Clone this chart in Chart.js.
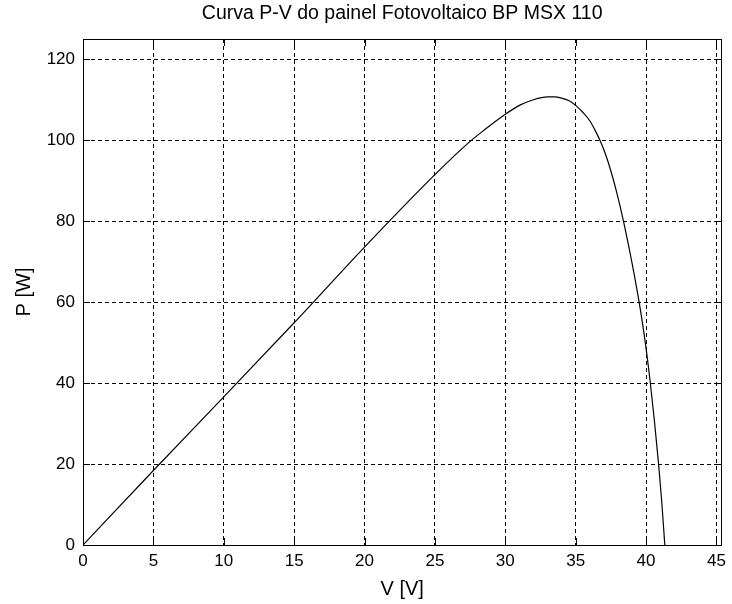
<!DOCTYPE html>
<html>
<head>
<meta charset="utf-8">
<script src="https://cdn.jsdelivr.net/npm/chart.js@4/dist/chart.umd.min.js"></script>
<style>
  html, body { margin: 0; padding: 0; background: #fff; }
  #wrap { width: 732px; height: 604px; }
</style>
</head>
<body>
<div id="wrap"><canvas id="pv" width="732" height="604"></canvas></div>
<script>
// P-V curve
const voltage = [0, 5, 10, 15, 20, 25, 27.5, 28.5, 30, 31, 32, 33, 33.5, 34, 34.5, 35, 35.5, 36.0, 36.4, 36.73, 37.1, 37.5, 37.9, 38.39, 39.0, 39.5, 39.9, 40.29, 40.6, 40.88, 41.1, 41.33];
const power = [0, 18.4, 36.6, 54.9, 73.6, 91.5, 99.7, 102.5, 106.4, 108.6, 110.0, 110.7, 110.7, 110.4, 109.8, 108.6, 106.9, 104.8, 102.3, 99.9, 96.7, 92.4, 87.3, 80.1, 69.7, 60.1, 51.1, 40.4, 30.4, 20.3, 11.3, 0];

const xTickStep = 5;
const yTickStep = 20;
const xMax = 45.35;
const yMax = 125;

const chartTitle = 'Curva P-V do painel Fotovoltaico BP MSX 110';
const xLabel = 'V [V]';
const yLabel = 'P [W]';

const fontFamily = '"Liberation Sans Narrow", "Liberation Sans", Arial, sans-serif';
const labelFont = { family: fontFamily, size: 20, weight: 'normal', lineHeight: 1.2 };
const tickFont = { family: fontFamily, size: 17, weight: 'normal', lineHeight: 1.2 };
const titleFont = { family: fontFamily, size: 19.5, weight: 'normal', lineHeight: 1.2 };

const points = voltage.map((v, i) => ({ x: v, y: power[i] }));

// box around the axes with inward ticks on every side, like matlab
const framePlugin = {
  id: 'frame',
  afterDatasetsDraw(chart) {
    const { ctx, chartArea: a, scales } = chart;
    const tickLen = 7;
    ctx.save();
    ctx.strokeStyle = '#000';
    ctx.lineWidth = 1;
    ctx.setLineDash([]);
    ctx.beginPath();
    scales.x.ticks.forEach(t => {
      const px = Math.round(scales.x.getPixelForValue(t.value)) + 0.5;
      ctx.moveTo(px, a.bottom);
      ctx.lineTo(px, a.bottom - tickLen);
      ctx.moveTo(px, a.top);
      ctx.lineTo(px, a.top + tickLen);
    });
    scales.y.ticks.forEach(t => {
      const py = Math.round(scales.y.getPixelForValue(t.value)) + 0.5;
      ctx.moveTo(a.left, py);
      ctx.lineTo(a.left + tickLen, py);
      ctx.moveTo(a.right, py);
      ctx.lineTo(a.right - tickLen, py);
    });
    ctx.stroke();
    ctx.strokeRect(Math.round(a.left) + 0.5, Math.round(a.top) + 0.5,
      Math.round(a.right - a.left), Math.round(a.bottom - a.top));
    ctx.restore();
  }
};

new Chart(document.getElementById('pv'), {
  type: 'line',
  data: {
    datasets: [{
      data: points,
      borderColor: '#000',
      borderWidth: 1.2,
      pointRadius: 0,
      fill: false,
      cubicInterpolationMode: 'monotone'
    }]
  },
  options: {
    responsive: false,
    animation: false,
    devicePixelRatio: 1,
    layout: { padding: { left: 0, right: 5, top: 0, bottom: 0 } },
    plugins: {
      legend: { display: false },
      tooltip: { enabled: false },
      title: {
        display: true,
        text: chartTitle,
        color: '#000',
        font: titleFont,
        fullSize: false,
        padding: { top: 2, bottom: 13.6 }
      }
    },
    scales: {
      x: {
        type: 'linear',
        min: 0,
        max: xMax,
        afterFit: s => { s.height = 59; },
        ticks: {
          stepSize: xTickStep,
          includeBounds: false,
          autoSkip: false,
          maxRotation: 0,
          padding: 6,
          color: '#000',
          font: tickFont
        },
        grid: { color: '#000', lineWidth: 1, drawTicks: false },
        border: { display: true, color: '#000', width: 1, dash: [4, 3] },
        title: {
          display: true,
          text: xLabel,
          color: '#000',
          font: labelFont,
          padding: { top: 0, bottom: 3 }
        }
      },
      y: {
        type: 'linear',
        min: 0,
        max: yMax,
        afterFit: s => { s.width = 83; },
        ticks: {
          stepSize: yTickStep,
          includeBounds: false,
          autoSkip: false,
          padding: 8,
          color: '#000',
          font: tickFont
        },
        grid: { color: '#000', lineWidth: 1, drawTicks: false },
        border: { display: true, color: '#000', width: 1, dash: [4, 3] },
        title: {
          display: true,
          text: yLabel,
          color: '#000',
          font: labelFont,
          padding: { top: 12, bottom: 0 }
        }
      }
    }
  },
  plugins: [framePlugin]
});
</script>
</body>
</html>
